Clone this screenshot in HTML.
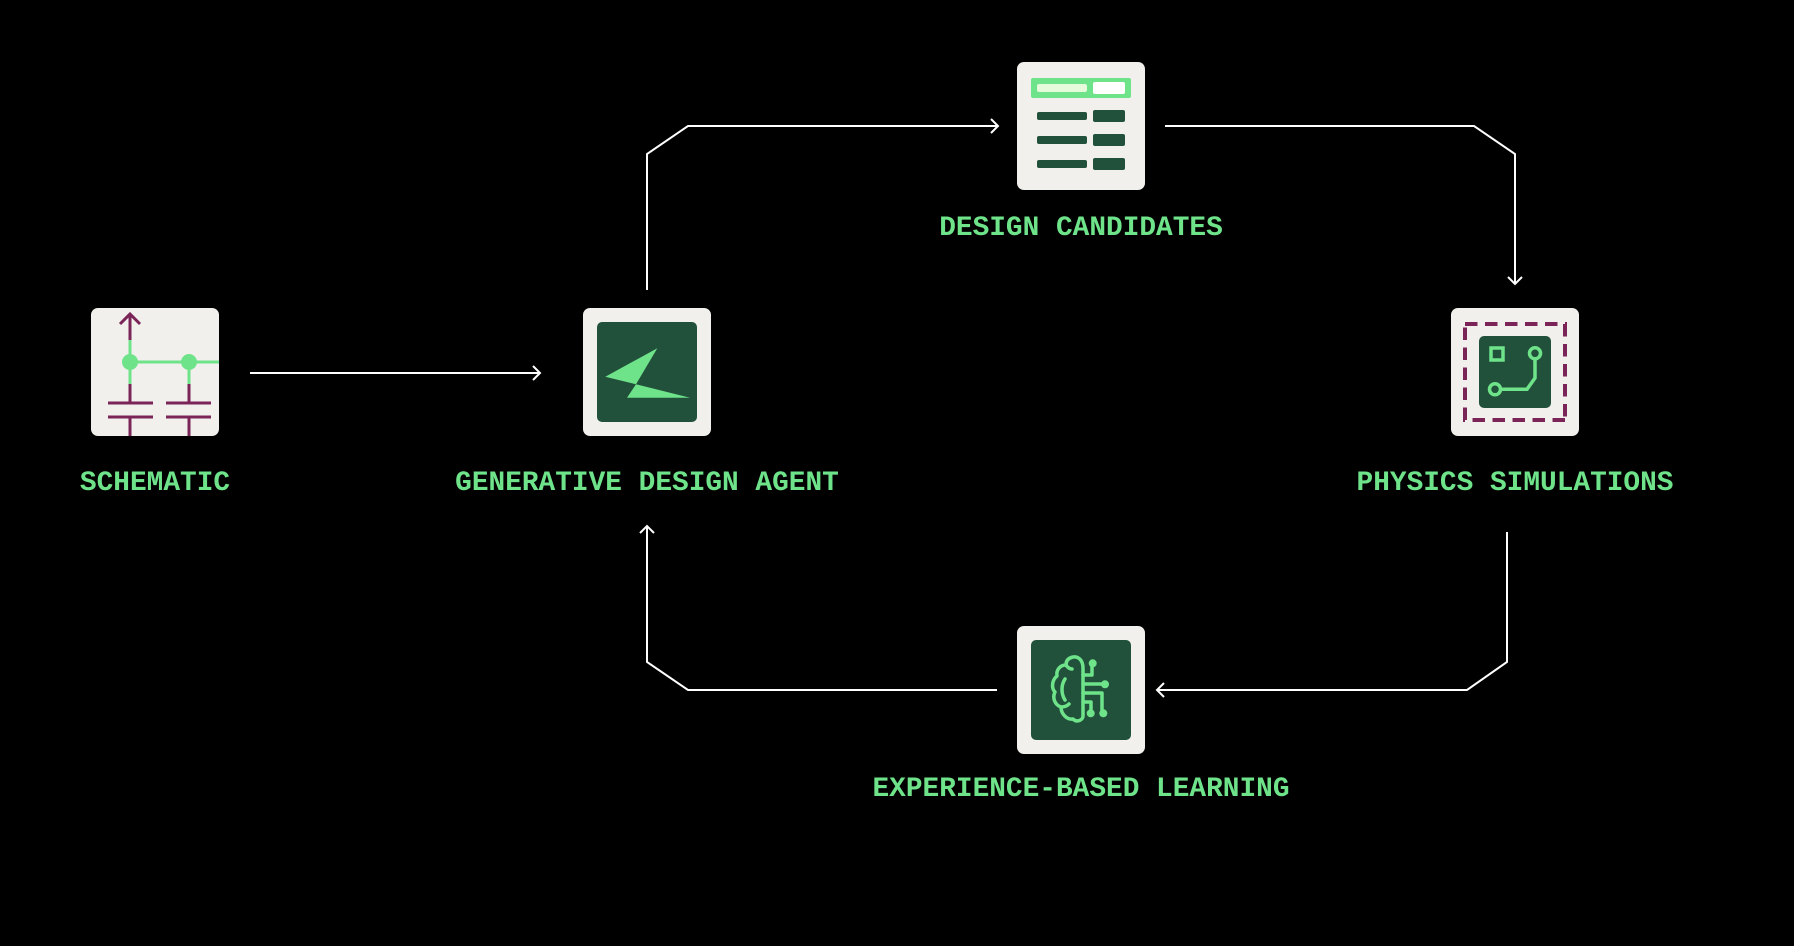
<!DOCTYPE html>
<html><head><meta charset="utf-8"><style>
html,body{margin:0;padding:0;background:#000;}
svg{display:block;}
</style></head><body>
<svg width="1794" height="946" viewBox="0 0 1794 946" xmlns="http://www.w3.org/2000/svg">
<rect width="1794" height="946" fill="#000"/>
<defs>
<clipPath id="sc"><rect x="91" y="308" width="128" height="128" rx="7"/></clipPath>
</defs>

<!-- connectors -->
<g fill="none" stroke="#fff" stroke-width="2" stroke-linejoin="miter">
  <path d="M250,373 H540"/>
  <path d="M533,366 L540,373 L533,380"/>
  <path d="M647,290 V154 L688,126 H998"/>
  <path d="M991,119 L998,126 L991,133"/>
  <path d="M1165,126 H1474 L1515,154 V284"/>
  <path d="M1508,277 L1515,284 L1522,277"/>
  <path d="M1507,532 V662 L1467,690 H1157"/>
  <path d="M1164,683 L1157,690 L1164,697"/>
  <path d="M997,690 H688 L647,662 V526"/>
  <path d="M640,533 L647,526 L654,533"/>
</g>

<!-- schematic -->
<rect x="91" y="308" width="128" height="128" rx="7" fill="#f1f0ec"/>
<g clip-path="url(#sc)" fill="none" stroke-width="3">
  <path d="M130,314 V340" stroke="#7a2457"/>
  <path d="M120,324 L130,314 L140,324" stroke="#7a2457"/>
  <path d="M130,340 V384" stroke="#6ee38a"/>
  <path d="M130,362 H222" stroke="#6ee38a"/>
  <path d="M189,362 V384" stroke="#6ee38a"/>
  <path d="M130,384 V403 M189,384 V403" stroke="#7a2457"/>
  <path d="M108,403 H153 M166,403 H211 M108,417 H153 M166,417 H211" stroke="#7a2457"/>
  <path d="M130,417 V440 M189,417 V440" stroke="#7a2457"/>
  <circle cx="130" cy="362" r="8" fill="#6ee38a" stroke="none"/>
  <circle cx="189" cy="362" r="8" fill="#6ee38a" stroke="none"/>
</g>

<!-- generative design agent -->
<rect x="583" y="308" width="128" height="128" rx="7" fill="#f1f0ec"/>
<rect x="597" y="322" width="100" height="100" rx="5" fill="#22513b"/>
<polygon points="657.3,348.3 605.3,376.7 636,384.3" fill="#6ee38a"/>
<polygon points="636,384.3 627,397.7 690,397.7" fill="#6ee38a"/>

<!-- design candidates -->
<rect x="1017" y="62" width="128" height="128" rx="7" fill="#f1f0ec"/>
<rect x="1031" y="78" width="100" height="20" rx="2" fill="#6ee38a"/>
<rect x="1037" y="84" width="50" height="8" rx="2" fill="#e6fadc"/>
<rect x="1093" y="82" width="32" height="12" rx="2" fill="#ffffff"/>
<g fill="#22513b">
  <rect x="1037" y="112" width="50" height="8" rx="2"/>
  <rect x="1093" y="110" width="32" height="12" rx="2"/>
  <rect x="1037" y="136" width="50" height="8" rx="2"/>
  <rect x="1093" y="134" width="32" height="12" rx="2"/>
  <rect x="1037" y="160" width="50" height="8" rx="2"/>
  <rect x="1093" y="158" width="32" height="12" rx="2"/>
</g>

<!-- physics simulations -->
<rect x="1451" y="308" width="128" height="128" rx="7" fill="#f1f0ec"/>
<g fill="none" stroke="#7a2457" stroke-width="4" stroke-dasharray="12.5 7.5">
  <path d="M1465,324 H1567"/>
  <path d="M1565,324 V422"/>
  <path d="M1565,420 H1463"/>
  <path d="M1465,420 V322"/>
</g>
<rect x="1479" y="336" width="72" height="72" rx="5" fill="#22513b"/>
<g fill="none" stroke="#6ee38a" stroke-width="3.5">
  <rect x="1491" y="348" width="12" height="12"/>
  <circle cx="1535" cy="353.3" r="5.5"/>
  <circle cx="1495" cy="389.3" r="5.5"/>
  <path d="M1535,358.8 V378 L1527,389.3 H1500.5"/>
</g>

<!-- experience-based learning -->
<rect x="1017" y="626" width="128" height="128" rx="7" fill="#f1f0ec"/>
<rect x="1031" y="640" width="100" height="100" rx="5" fill="#22513b"/>
<g fill="none" stroke="#6ee38a" stroke-width="3.5" stroke-linecap="round" stroke-linejoin="round">
  <path d="M1083,716 V668 C1083,660 1078,656 1073,657 C1068,658 1066,661 1066,665 C1060,665 1056,670 1057,676 C1052,680 1051,688 1055,692 C1052,698 1055,705 1061,707 C1061,714 1067,720 1073,719 C1077,723 1083,720 1083,716"/>
  <path d="M1066,665 C1068,668 1070,669 1072,669"/>
  <path d="M1065,679 C1061,685 1061,694 1065,700"/>
  <path d="M1061,707 C1064,707 1067,706 1069,704"/>
  <path d="M1083,675 H1092 V665"/>
  <path d="M1083,684 H1103"/>
  <path d="M1083,693 H1102 V711"/>
  <path d="M1083,702 H1091 V711"/>
</g>
<g fill="#6ee38a">
  <circle cx="1092.7" cy="663.3" r="4"/>
  <circle cx="1105" cy="684.3" r="4"/>
  <circle cx="1103.3" cy="713.3" r="4"/>
  <circle cx="1090.7" cy="713.3" r="4"/>
</g>

<!-- labels -->
<g font-family="'Liberation Mono', monospace" font-size="27.8" font-weight="bold" fill="#6ee38a" text-anchor="middle">
  <text x="155" y="490">SCHEMATIC</text>
  <text x="647" y="490">GENERATIVE DESIGN AGENT</text>
  <text x="1081" y="235">DESIGN CANDIDATES</text>
  <text x="1515" y="490">PHYSICS SIMULATIONS</text>
  <text x="1081" y="796">EXPERIENCE-BASED LEARNING</text>
</g>
</svg>
</body></html>
